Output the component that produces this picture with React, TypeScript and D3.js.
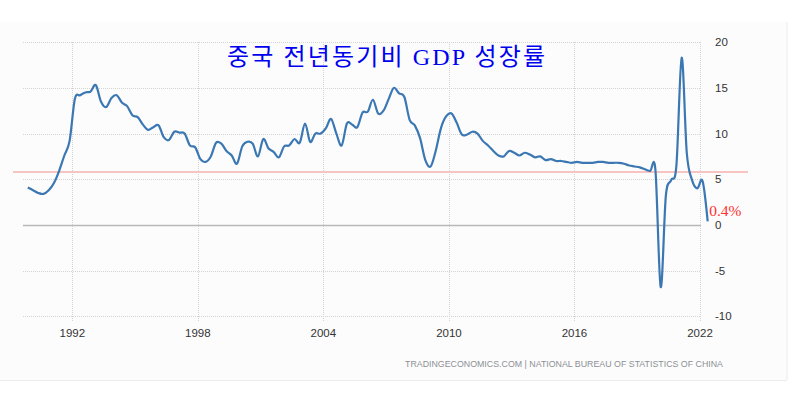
import React from "react";
import * as d3 from "d3";

// China GDP year-on-year growth, quarterly, starting 1989 Q4
const startYear = 1989;
const startQuarter = 4;
const gdpGrowth = [
  4.1,
  3.8, 3.5, 3.4, 3.8,
  4.6, 5.9, 7.6, 9.2,
  13.8, 14.2, 14.5, 14.6,
  15.3, 13.5, 12.9, 13.9,
  14.2, 13.4, 13.0, 12.0,
  11.8, 11.0, 10.4, 10.7,
  10.9, 9.6, 9.3, 10.2,
  10.1, 10.0, 8.7, 8.5,
  7.2, 6.9, 7.5, 9.0,
  8.9, 8.1, 7.6, 6.7,
  8.6, 9.1, 8.9, 7.5,
  9.4, 8.4, 8.0, 7.4,
  8.6, 8.7, 9.4, 9.0,
  11.1, 9.1, 10.0, 10.0,
  10.6, 11.6, 10.0, 8.7,
  11.1, 11.0, 10.7, 12.3,
  12.4, 13.7, 12.2, 12.5,
  13.8, 15.0, 14.4, 14.0,
  11.5, 10.9, 9.5, 7.1,
  6.4, 8.1, 10.6, 11.9,
  12.2, 11.2, 9.9, 9.9,
  10.2, 10.0, 9.2, 8.7,
  8.1, 7.6, 7.5, 8.1,
  7.9, 7.6, 7.9, 7.7,
  7.4, 7.5, 7.1, 7.2,
  7.0, 7.0, 6.9, 6.8,
  6.9, 6.8, 6.8, 6.8,
  6.9, 6.9, 6.8, 6.8,
  6.8, 6.7, 6.5, 6.4,
  6.3, 6.1, 5.9, 6.0,
  -6.8, 3.2, 4.9, 6.5,
  18.3, 7.9, 4.9, 4.0,
  4.8, 0.4,
];

const xTickYears = [1992, 1998, 2004, 2010, 2016, 2022];
const yTicks = [20, 15, 10, 5, 0, -5, -10];
const averageLine = 5.8;
const lastLabel = "0.4%";
const title = "중국 전년동기비 GDP 성장률";
const source = "TRADINGECONOMICS.COM  |  NATIONAL BUREAU OF STATISTICS OF CHINA";

type Point = { date: Date; value: number };

const points: Point[] = gdpGrowth.map((v, i) => {
  const q = startQuarter - 1 + i;
  const year = startYear + Math.floor(q / 4);
  const month = (q % 4) * 3 + 1; // middle month of the quarter
  return { date: new Date(year, month, 15), value: v };
});

export default function App() {
  const w = 790;
  const h = 396;
  const gridLeft = 23;
  const gridRight = 701;

  const x = d3
    .scaleTime()
    .domain([new Date(1992, 0, 1), new Date(2022, 0, 1)])
    .range([72.3, 700]);

  const y = d3.scaleLinear().domain([-10, 20]).range([316.3, 42.2]);

  const line = d3
    .line<Point>()
    .x((d) => x(d.date))
    .y((d) => y(d.value))
    .curve(d3.curveCardinal.tension(0));

  const last = points[points.length - 1];

  return (
    <div style={{ position: "absolute", left: 0, top: 0 }}>
      <svg width={w} height={h} style={{ display: "block", background: "#fff" }}>
        {/* panel */}
        <rect x={0} y={22} width={787} height={358} fill="#fcfcfc" />
        <line x1={787} x2={787} y1={22} y2={380} stroke="#ececec" />
        <line x1={0} x2={787} y1={380.5} y2={380.5} stroke="#ececec" />

        {/* horizontal grid */}
        {yTicks.map((t) => (
          <line
            key={"hg" + t}
            x1={gridLeft}
            x2={gridRight}
            y1={Math.round(y(t)) + 0.5}
            y2={Math.round(y(t)) + 0.5}
            stroke={t === 0 ? "#b8b8b8" : "#d4d4d4"}
            strokeWidth={t === 0 ? 1.5 : 1}
            strokeDasharray={t === 0 ? undefined : "1,1"}
          />
        ))}

        {/* vertical grid */}
        {xTickYears.map((yr) => {
          const xx = Math.round(x(new Date(yr, 0, 1))) + 0.5;
          return (
            <line
              key={"vg" + yr}
              x1={xx}
              x2={xx}
              y1={42}
              y2={321}
              stroke="#d4d4d4"
              strokeDasharray="1,1"
            />
          );
        })}

        {/* average line */}
        <line
          x1={13}
          x2={748}
          y1={y(averageLine)}
          y2={y(averageLine)}
          stroke="#f7c4c4"
          strokeWidth={2}
        />

        {/* title */}
        <text
          x={227}
          y={65}
          fill="#0000f0"
          fontFamily="'Liberation Serif', 'Noto Sans CJK KR', serif"
          fontSize={24}
          textLength={318}
          lengthAdjust="spacing"
        >
          {title}
        </text>

        {/* series */}
        <path d={line(points) ?? ""} fill="none" stroke="#3b78b3" strokeWidth={2.2} />

        {/* last value label */}
        <text
          x={x(last.date) + 1.5}
          y={216}
          fill="#ff3030"
          fontFamily="'Liberation Serif', serif"
          fontSize={15.5}
        >
          {lastLabel}
        </text>

        {/* y axis labels */}
        {yTicks.map((t) => (
          <text
            key={"yl" + t}
            x={715}
            y={y(t)}
            dy="0.35em"
            fill="#333"
            fontFamily="'Liberation Sans', Arial, sans-serif"
            fontSize={11.5}
          >
            {t}
          </text>
        ))}

        {/* x axis labels */}
        {xTickYears.map((yr) => (
          <text
            key={"xl" + yr}
            x={x(new Date(yr, 0, 1))}
            y={337}
            textAnchor="middle"
            fill="#333"
            fontFamily="'Liberation Sans', Arial, sans-serif"
            fontSize={11.5}
          >
            {yr}
          </text>
        ))}

        {/* source */}
        <text
          x={405}
          y={367}
          fill="#8c9096"
          fontFamily="'Liberation Sans', Arial, sans-serif"
          fontSize={9}
          textLength={318}
          lengthAdjust="spacingAndGlyphs"
        >
          {source}
        </text>
      </svg>
    </div>
  );
}
